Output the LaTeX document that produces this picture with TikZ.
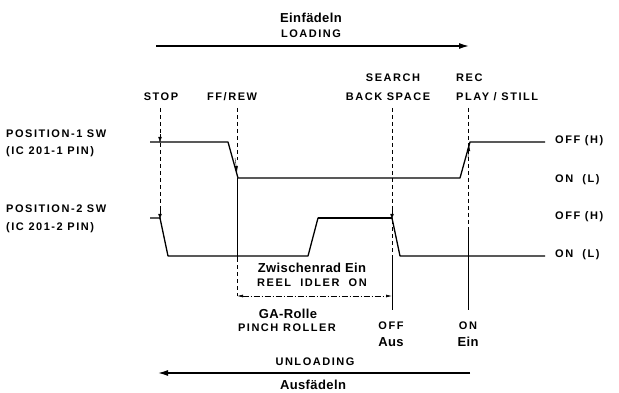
\documentclass[tikz,border=0pt]{standalone}
\usepackage{fontspec}
\setmainfont{Liberation Sans}
\newfontfamily\capfont{Liberation Sans}[LetterSpace=14]
\newfontfamily\lowfont{Liberation Sans}[LetterSpace=3]
\usetikzlibrary{calc,arrows.meta}
\tikzstyle{lbl} = [font=\capfont\bfseries\fontsize{11}{12}\selectfont, inner sep=0pt, align=center]
\tikzstyle{word} = [font=\lowfont\bfseries\fontsize{13}{14}\selectfont, inner sep=0pt, align=center]
\tikzstyle{wave} = [line width=1.3pt, line join=round]
\tikzstyle{guide} = [dashed, dash pattern=on 4pt off 3pt, line width=0.6pt]
\tikzstyle{thin} = [line width=0.7pt]
\tikzstyle{bigarrow} = [line width=1.3pt, -{Latex[length=10pt,width=6pt]}]
\tikzstyle{hit} = [-{Latex[length=6pt,width=3.5pt]}]

\begin{document}
\begin{tikzpicture}[x=1pt,y=-1pt]
\useasboundingbox (0,0) rectangle (619,393);

% loading direction
\node[word] (einf) at (311,18) {Einfädeln};
\node[lbl] (load) at (311,34) {LOADING};
\coordinate (loadA) at (156,46);
\coordinate (loadB) at (469,46);
\draw[bigarrow] (loadA) -- (loadB);

% mode labels
\node[lbl] (stop) at (161,97) {STOP};
\node[lbl, anchor=west] (ffrew) at (207,97) {FF/REW};
\node[lbl] (search) at (393,78) {SEARCH};
\node[lbl] (back) at (388,97) {BACK SPACE};
\node[lbl, anchor=west] (rec) at (456,78) {REC};
\node[lbl, anchor=west] (play) at (456,97) {PLAY / STILL};

% signal names
\node[lbl, anchor=west] (pos1) at (6,134) {POSITION-1 SW};
\node[lbl, anchor=west] (ic1) at (6,152) {(IC 201-1 PIN)};
\node[lbl, anchor=west] (pos2) at (6,209) {POSITION-2 SW};
\node[lbl, anchor=west] (ic2) at (6,228) {(IC 201-2 PIN)};

% levels
\node[lbl, anchor=west] (off1) at (555,141) {OFF (H)};
\node[lbl, anchor=west] (on1) at (555,180) {ON\ \ (L)};
\node[lbl, anchor=west] (off2) at (555,217) {OFF (H)};
\node[lbl, anchor=west] (on2) at (555,255) {ON\ \ (L)};

% position-1 waveform
\coordinate (a0) at (150,142);
\coordinate (a1) at (228,142);
\coordinate (a2) at (238,178);
\coordinate (a3) at (460,178);
\coordinate (a4) at (470,142);
\coordinate (a5) at (545,142);
\draw[wave] (a0) -- (a1) -- (a2) -- (a3) -- (a4) -- (a5);

% position-2 waveform
\coordinate (b0) at (150,218);
\coordinate (b1) at (160,218);
\coordinate (b2) at (168,256);
\coordinate (b3) at (308,256);
\coordinate (b4) at (318,218);
\coordinate (b5) at (392,218);
\coordinate (b6) at (400,256);
\coordinate (b7) at (545,256);
\draw[wave] (b0) -- (b1) -- (b2) -- (b3) -- (b4) -- (b5) -- (b6) -- (b7);
\draw[line width=2.2pt] (b4) -- (b5);

% guide lines
\coordinate (g1) at (160,108);
\coordinate (g2) at (237,108);
\coordinate (g3) at (392,108);
\coordinate (g4) at (468,108);
\draw[guide] (g1) -- (160,136);
\draw[hit] (160,134) -- (160,143);
\draw[guide] (160,143) -- (160,212);
\draw[hit] (160,210) -- (160,220);
\draw[guide] (g2) -- (237,160);
\draw[hit] (235,158) -- (237,172);
\draw[thin] (237,178) -- (237,258);
\draw[guide] (237,258) -- (237,296);
\draw[guide] (g3) -- (392,210);
\draw[hit] (392,208) -- (392,220);
\draw[guide] (392,220) -- (392,256);
\draw[thin] (392,256) -- (392,310);
\draw[guide] (g4) -- (468,150);
\draw[hit] (468,158) -- (469,145);
\draw[guide] (468,150) -- (468,228);
\draw[thin] (468,228) -- (468,310);

% reel idler span
\node[word] (zw) at (312,268) {Zwischenrad Ein};
\node[lbl] (reel) at (312,283) {REEL\ \ IDLER\ \ ON};
\coordinate (idA) at (237,296);
\coordinate (idB) at (392,296);
\draw[thin, dash pattern=on 6pt off 2pt on 1pt off 2pt, {Latex[length=6pt,width=3pt]}-{Latex[length=6pt,width=3pt]}] (idA) -- (idB);

% pinch roller
\node[word] (ga) at (288,314) {GA-Rolle};
\node[lbl] (pinch) at (287,328) {PINCH ROLLER};
\node[lbl] (offp) at (391,326) {OFF};
\node[word] (aus) at (391,342) {Aus};
\node[lbl] (onp) at (468,326) {ON};
\node[word] (ein) at (468,342) {Ein};

% unloading direction
\node[lbl] (unload) at (315,362) {UNLOADING};
\node[word] (ausf) at (313,385) {Ausfädeln};
\coordinate (unA) at (470,373);
\coordinate (unB) at (158,373);
\draw[bigarrow] (unA) -- (unB);
\end{tikzpicture}
\end{document}
